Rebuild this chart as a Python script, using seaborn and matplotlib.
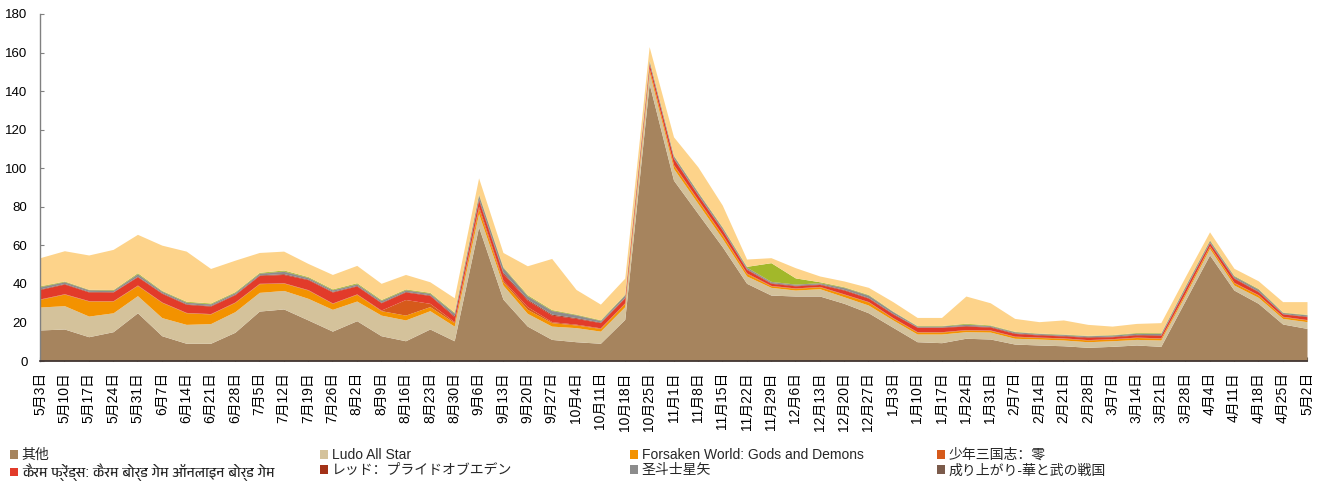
import numpy as np
import matplotlib
matplotlib.use("Agg")
import matplotlib.pyplot as plt
import seaborn as sns
from matplotlib import font_manager

dates = ["5月3日", "5月10日", "5月17日", "5月24日", "5月31日", "6月7日", "6月14日", "6月21日", "6月28日",
         "7月5日", "7月12日", "7月19日", "7月26日", "8月2日", "8月9日", "8月16日", "8月23日", "8月30日",
         "9月6日", "9月13日", "9月20日", "9月27日", "10月4日", "10月11日", "10月18日", "10月25日",
         "11月1日", "11月8日", "11月15日", "11月22日", "11月29日", "12月6日", "12月13日", "12月20日",
         "12月27日", "1月3日", "1月10日", "1月17日", "1月24日", "1月31日", "2月7日", "2月14日", "2月21日",
         "2月28日", "3月7日", "3月14日", "3月21日", "3月28日", "4月4日", "4月11日", "4月18日", "4月25日", "5月2日"]

other = [16.1, 16.6, 12.6, 15.2, 25.0, 13.1, 9.2, 9.2, 14.9, 25.9, 27.0, 21.3, 15.5, 20.9, 13.1, 10.5, 16.6, 10.5,
         69.6, 32.1, 18.1, 11.2, 10.0, 9.2, 21.6, 143.9, 93.8, 76.5, 59.3, 40.3, 34.2, 33.7, 33.7, 29.9, 25.0,
         17.5, 10.0, 9.5, 11.8, 11.4, 8.8, 8.3, 7.9, 7.1, 7.6, 8.3, 7.6, 31.3, 55.0, 36.8, 29.9, 19.2, 16.9]
ludo = [11.9, 12.1, 10.7, 9.8, 8.9, 9.4, 9.8, 10.2, 10.7, 9.7, 9.6, 11.2, 11.3, 10.2, 10.7, 10.8, 9.5, 7.6,
        6.9, 7.3, 6.6, 6.9, 7.3, 6.3, 6.6, 6.1, 6.1, 5.2, 4.3, 3.8, 4.0, 3.1, 3.8, 3.4, 4.0,
        3.8, 4.0, 4.5, 3.4, 3.6, 3.0, 3.1, 3.0, 2.9, 2.9, 2.9, 3.3, 2.9, 3.4, 2.6, 3.1, 2.9, 3.5]
forsaken = [4.0, 6.0, 7.8, 6.1, 5.3, 7.9, 6.0, 5.0, 4.8, 4.5, 3.8, 4.3, 3.1, 3.5, 2.3, 2.5, 2.1, 1.8,
            2.6, 1.7, 2.1, 1.8, 1.4, 1.4, 1.7, 1.7, 1.7, 1.7, 1.7, 1.3, 0.8, 0.9, 1.0, 1.3, 1.6,
            1.0, 1.0, 1.0, 0.9, 0.9, 0.9, 0.8, 0.9, 0.9, 0.9, 1.0, 0.9, 1.0, 1.2, 1.2, 1.2, 0.9, 0.9]
shaonian = [0.2, 0.2, 0.2, 0.2, 0.2, 0.2, 0.2, 0.2, 0.2, 0.2, 0.2, 0.2, 0.2, 0.2, 0.3, 8.1, 1.7, 0.5,
            1.2, 0.8, 1.4, 0.5, 0.4, 0.3, 0.3, 0.3, 0.3, 0.3, 0.3, 0.3, 0.2, 0.2, 0.2, 0.2, 0.2,
            0.2, 0.2, 0.2, 0.2, 0.2, 0.2, 0.2, 0.2, 0.2, 0.2, 0.2, 0.2, 0.2, 0.2, 0.2, 0.2, 0.2, 0.2]
carrom = [4.9, 5.0, 4.5, 4.5, 4.3, 4.5, 4.2, 3.9, 3.8, 4.1, 4.3, 5.2, 5.7, 4.1, 3.8, 3.9, 4.1, 2.6,
          3.1, 3.5, 3.4, 3.4, 3.0, 2.7, 2.6, 2.3, 3.1, 2.3, 2.3, 1.8, 1.1, 1.1, 1.0, 2.0, 1.8,
          1.9, 2.3, 2.3, 1.8, 1.5, 1.4, 1.1, 1.0, 1.2, 1.0, 1.1, 1.3, 2.0, 1.5, 2.1, 1.5, 1.2, 1.5]
red_pride = [0.3, 0.3, 0.3, 0.2, 0.3, 0.3, 0.3, 0.3, 0.3, 0.3, 0.4, 0.3, 0.3, 0.3, 0.3, 0.3, 0.3, 0.5,
             0.8, 0.6, 0.5, 0.5, 0.4, 0.3, 0.3, 0.3, 0.3, 0.3, 0.3, 0.3, 0.3, 0.3, 0.3, 0.3, 0.3,
             0.3, 0.2, 0.2, 0.3, 0.3, 0.3, 0.3, 0.3, 0.3, 0.3, 0.3, 0.3, 0.3, 0.3, 0.3, 0.3, 0.2, 0.3]
seiya = [1.0, 0.8, 0.7, 0.6, 1.1, 0.7, 0.7, 0.7, 0.7, 0.7, 1.2, 0.7, 0.7, 0.7, 0.8, 0.7, 0.7, 1.2,
         1.8, 2.3, 1.6, 1.8, 1.3, 0.7, 1.1, 1.1, 1.0, 1.0, 0.9, 0.7, 0.5, 0.4, 0.4, 0.9, 1.1,
         0.9, 0.4, 0.4, 0.6, 0.4, 0.5, 0.4, 0.4, 0.4, 0.5, 0.6, 0.7, 1.0, 0.8, 0.7, 0.9, 0.5, 0.6]
nariagari = [0.2, 0.2, 0.2, 0.2, 0.2, 0.2, 0.2, 0.2, 0.2, 0.2, 0.2, 0.2, 0.2, 0.2, 0.2, 0.2, 0.2, 0.2,
             0.3, 0.2, 0.2, 0.2, 0.2, 0.2, 0.2, 0.2, 0.2, 0.2, 0.2, 0.2, 0.2, 0.2, 0.2, 0.2, 0.2,
             0.1, 0.1, 0.1, 0.2, 0.1, 0.1, 0.1, 0.1, 0.1, 0.1, 0.1, 0.1, 0.1, 0.2, 0.2, 0.2, 0.1, 0.1]
green_series = [0.4, 0.3, 0.2, 0.3, 0.5, 0.3, 0.4, 0.4, 0.4, 0.4, 0.5, 0.4, 0.4, 0.5, 0.4, 0.4, 0.4, 0.4,
                0.4, 0.4, 0.5, 0.4, 0.3, 0.3, 0.3, 0.3, 0.3, 0.3, 0.3, 0.4, 9.7, 3.2, 0.5, 0.3, 0.3,
                0.2, 0.2, 0.2, 0.4, 0.3, 0.2, 0.2, 0.2, 0.2, 0.2, 0.3, 0.3, 0.3, 0.3, 0.3, 0.3, 0.2, 0.2]
peach_series = [14.6, 15.7, 17.8, 20.8, 19.9, 23.5, 26.0, 17.9, 16.3, 10.3, 9.8, 6.8, 7.5, 9.0, 8.4, 7.5, 5.5, 7.5,
                8.3, 7.4, 15.0, 26.5, 12.8, 8.1, 8.3, 6.9, 9.5, 12.9, 11.3, 3.8, 2.6, 5.3, 3.0, 3.0, 3.7,
                4.9, 4.2, 4.2, 14.1, 11.5, 6.7, 5.9, 7.3, 5.7, 4.4, 4.7, 5.2, 4.6, 4.1, 3.7, 4.0, 5.4, 6.6]

series_names = ["其他", "Ludo All Star", "Forsaken World: Gods and Demons", "少年三国志：零",
                "कैरम फ्रेंड्स: कैरम बोर्ड गेम ऑनलाइन बोर्ड गेम", "レッド：プライドオブエデン",
                "圣斗士星矢", "成り上がり-華と武の戦国"]

colors = ["#A6845E", "#D4C29B", "#F39200", "#D65A1B", "#E23B2A", "#A33218",
          "#8C8C8C", "#7B5B4B", "#A2B82A", "#FDD38A"]

sns.set_theme(style="white")
deva = []
for f in font_manager.fontManager.ttflist:
    if "Devanagari" in f.name or "Lohit" in f.name or "Devanagari" in f.fname:
        deva.append(f.name)
fams = ["Liberation Sans", "Noto Sans CJK SC"] + deva[:1] + ["DejaVu Sans"]
plt.rcParams["font.family"] = fams
plt.rcParams["axes.unicode_minus"] = False

W, H = 1319, 482
fig = plt.figure(figsize=(W / 100, H / 100), dpi=100)
ax = fig.add_axes([40 / W, 1 - 361 / H, (1307 - 40) / W, (361 - 14) / H])

x = np.arange(len(dates))
all_series = [other, ludo, forsaken, shaonian, carrom, red_pride, seiya, nariagari, green_series, peach_series]
labels = series_names + ["_s9", "_s10"]
polys = ax.stackplot(x, *all_series, colors=colors, labels=labels, linewidth=0)

ax.set_xlim(0, len(dates) - 1)
ax.set_ylim(0, 180)
ax.set_yticks(np.arange(0, 181, 20))
ax.set_xticks(x)
ax.set_xticklabels(dates, rotation=90, fontsize=10, color="#000000")
ax.tick_params(axis="y", direction="in", length=3, width=0.8, color="#808080", labelsize=9.5, pad=9,
               left=True, labelcolor="#000000")
ax.tick_params(axis="x", direction="in", length=3, width=0.8, color="#404040", pad=8, bottom=True)
for lab in ax.get_xticklabels():
    lab.set_va("top")
    lab.set_ha("center")

sns.despine(ax=ax, top=True, right=True)
ax.spines["left"].set_color("#808080")
ax.spines["left"].set_linewidth(1.0)
ax.spines["bottom"].set_color("#3a3030")
ax.spines["bottom"].set_linewidth(1.2)
ax.grid(False)

# legend: 4 columns, 2 rows, row-major order
col_x = [10, 320, 630, 937]
for j in range(4):
    hs = [polys[j], polys[j + 4]]
    ls = [series_names[j], series_names[j + 4]]
    fig.legend(hs, ls, loc="upper left", bbox_to_anchor=(col_x[j] / W, 1 - 448 / H),
               frameon=False, borderpad=0, borderaxespad=0, labelspacing=0.1,
               handlelength=0.6, handleheight=0.6, handletextpad=0.25, fontsize=10)

fig.savefig("out.png", dpi=100, facecolor="white")
